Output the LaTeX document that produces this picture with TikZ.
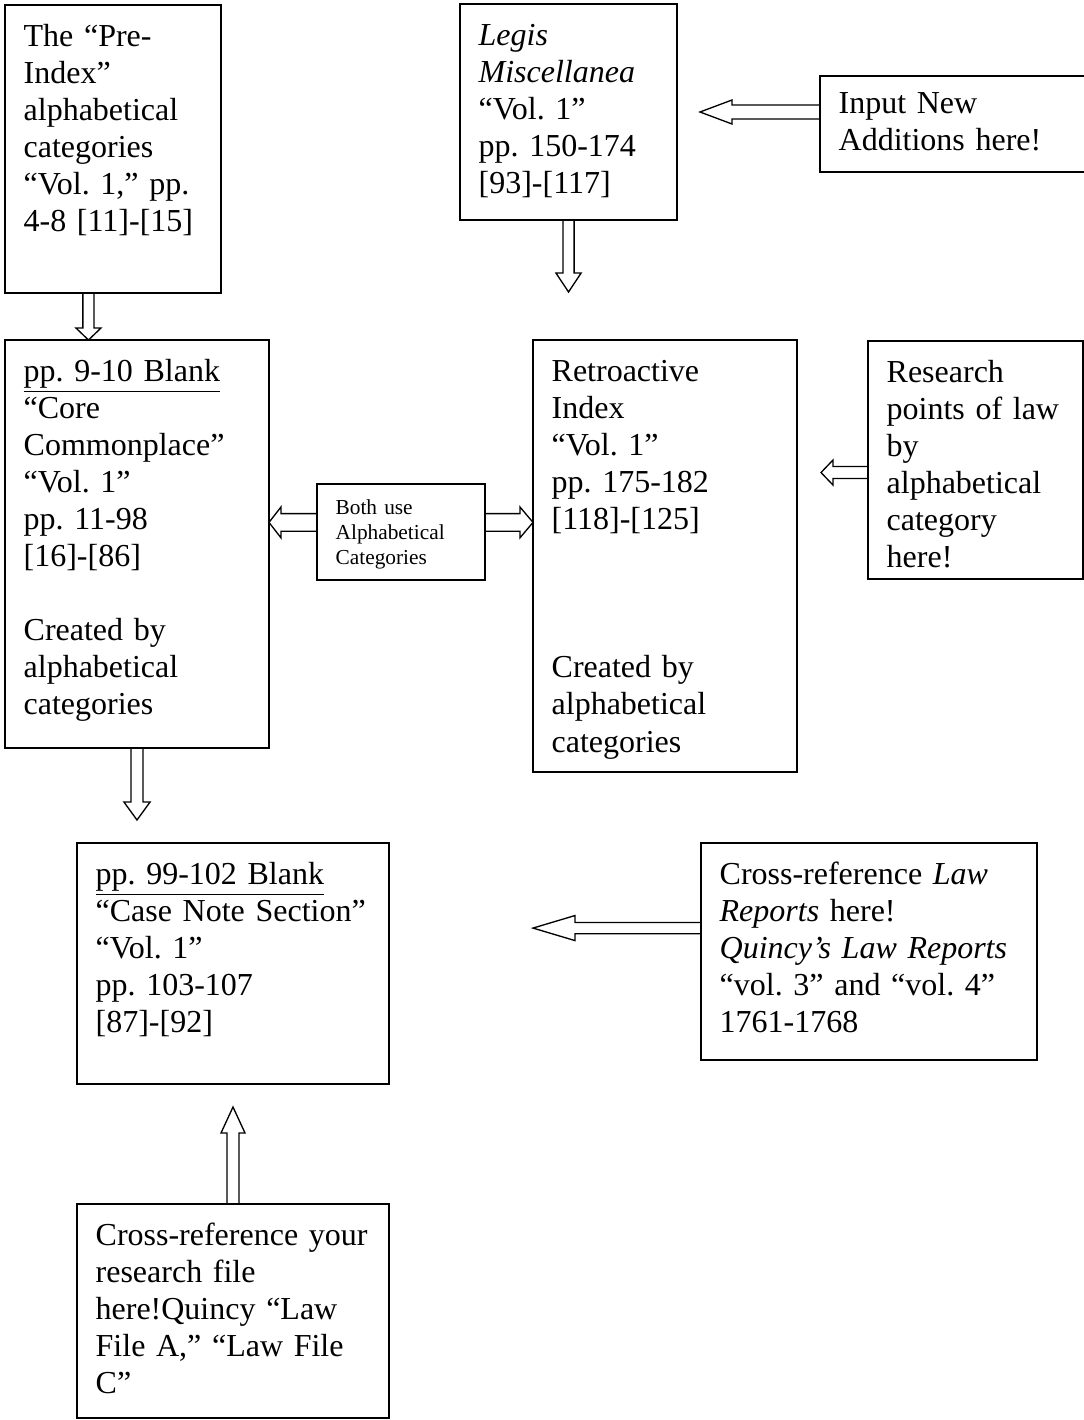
\documentclass[tikz,border=0pt]{standalone}
\usepackage{fontspec}
\setmainfont{Liberation Serif}
\usetikzlibrary{calc}
\frenchspacing

\tikzset{
  box/.style n args={2}{draw, line width=0.75pt, anchor=north west, align=left,
    outer sep=0pt, inner xsep=7pt, inner ysep=5.5pt, text height=10pt,
    text width=#1, text depth=#2, font=\fontsize{12}{13.9}\selectfont},
  hollow/.style={draw, line width=0.5pt, line join=miter},
}
% block arrows: #1 tail, #2 tip, #3 half shaft, #4 half head, #5 head length
\newcommand{\fath}[5]{%
  \draw[hollow] let \p1=#1, \p2=#2, \n1={ifthenelse(\x2>\x1,1,-1)} in
    (\x1,\y1+#3) -- (\x2-\n1*#5,\y1+#3) -- (\x2-\n1*#5,\y1+#4) -- (\x2,\y1)
    -- (\x2-\n1*#5,\y1-#4) -- (\x2-\n1*#5,\y1-#3) -- (\x1,\y1-#3) -- cycle;}
\newcommand{\fatv}[5]{%
  \draw[hollow] let \p1=#1, \p2=#2, \n1={ifthenelse(\y2>\y1,1,-1)} in
    (\x1+#3,\y1) -- (\x1+#3,\y2-\n1*#5) -- (\x1+#4,\y2-\n1*#5) -- (\x1,\y2)
    -- (\x1-#4,\y2-\n1*#5) -- (\x1-#3,\y2-\n1*#5) -- (\x1-#3,\y1) -- cycle;}

\begin{document}
\begin{tikzpicture}[x=0.375pt, y=-0.375pt]
\useasboundingbox (0,0) rectangle (1084,1420);
\clip (0,0) rectangle (1084,1420);

% top row
\node[box={67pt}{87pt}] (pre) at (5,5)
  {The “Pre-\\Index”\\alphabetical\\categories\\“Vol. 1,” pp.\\4-8 [11]-[15]};
\node[box={67.4pt}{60pt}] (legis) at (460,4)
  {\textit{Legis}\\\textit{Miscellanea}\\“Vol. 1”\\pp. 150-174\\{}[93]-[117]};
\node[box={200pt}{16.5pt}, text height=8.5pt] (input) at (820,76)
  {Input New\\Additions here!};

% middle row
\node[box={85pt}{132pt}] (core) at (5,340)
  {\underline{pp. 9-10 Blank}\\“Core\\Commonplace”\\“Vol. 1”\\pp. 11-98\\{}[16]-[86]\\[13.9pt]Created by\\alphabetical\\categories};
\node[box={49pt}{19.25pt}, text height=5.75pt, font=\fontsize{8}{9.4}\selectfont] (both) at (317,484)
  {Both use\\Alphabetical\\Categories};
\node[box={85pt}{141pt}] (retro) at (533,340)
  {Retroactive\\Index\\“Vol. 1”\\pp. 175-182\\{}[118]-[125]\\[41.7pt]Created by\\alphabetical\\categories};
\node[box={66.6pt}{68.25pt}] (research) at (868,341)
  {Research\\points of law\\by\\alphabetical\\category\\here!};

% lower rows
\node[box={103pt}{69.4pt}] (case) at (77,843)
  {\underline{pp. 99-102 Blank}\\“Case Note Section”\\“Vol. 1”\\pp. 103-107\\{}[87]-[92]};
\node[box={112pt}{60.4pt}] (quincy) at (701,843)
  {Cross-reference \textit{Law}\\\textit{Reports} here!\\\textit{Quincy’s Law Reports}\\“vol. 3” and “vol. 4”\\1761-1768};
\node[box={103pt}{59.25pt}] (file) at (77,1204)
  {Cross-reference your\\research file\\here!Quincy “Law\\File A,” “Law File\\C”};

% free ends of the arrows
\coordinate (legisTip) at (568.5,292);
\coordinate (inputTip) at (700,112);
\coordinate (researchTip) at (821,472.5);
\coordinate (coreTip) at (137,820);
\coordinate (quincyTip) at (533,928);
\coordinate (fileTip) at (233,1107);

% block arrows
\fatv{([xshift=-9.2pt]pre.south)}{(core.north)}{2.1pt}{4.7pt}{4.5pt}
\fatv{(legis.south)}{(legisTip)}{2.1pt}{4.7pt}{7.1pt}
\fath{([yshift=4.5pt]input.west)}{(inputTip)}{2.6pt}{4.5pt}{12pt}
\fath{([yshift=3.6pt]both.west)}{(core.east)}{3.3pt}{5.8pt}{4.5pt}
\fath{([yshift=3.6pt]both.east)}{(retro.west)}{3.3pt}{5.8pt}{4.9pt}
\fath{([yshift=-4.7pt]research.west)}{(researchTip)}{2.25pt}{4.7pt}{4.5pt}
\fatv{(core.south)}{(coreTip)}{2.25pt}{4.9pt}{6.75pt}
\fath{([yshift=8.8pt]quincy.west)}{(quincyTip)}{2.1pt}{4.7pt}{15.75pt}
\fatv{(file.north)}{(fileTip)}{2.25pt}{4.5pt}{9.75pt}
\end{tikzpicture}
\end{document}
